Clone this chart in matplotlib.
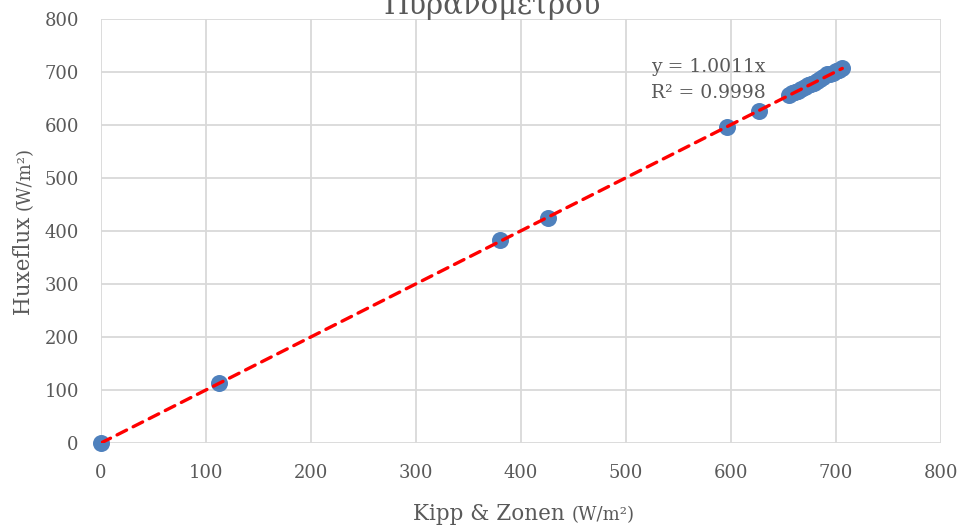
import numpy as np
import matplotlib
matplotlib.use("Agg")
from matplotlib import pyplot as plt

# readings: Kipp & Zonen (x) vs Huxeflux (y), W/m2
kipp = [0, 112, 380, 426, 596, 627,
        655, 658, 661, 664, 667, 670, 673, 676, 679, 682,
        685, 688, 691, 694, 697, 700, 703, 706]
huxe = [0, 113, 383, 425, 596, 627,
        656, 660, 662, 665, 668, 672, 676, 677, 679, 683,
        686, 690, 697, 697, 699, 701, 704, 708]
slope = 1.0011
r2 = 0.9998
title = "Πυρανομέτρου"

GRAY = "#595959"
GRID = "#d9d9d9"

plt.rcParams["font.family"] = ["DejaVu Serif"]

fig = plt.figure(figsize=(9.68, 5.32), dpi=100)
ax = fig.add_axes([101 / 968, 89 / 532, 840 / 968, 424 / 532])

x = np.array(kipp, dtype=float)
y = np.array(huxe, dtype=float)

ax.scatter(x, y, s=150, color="#4f81bd", zorder=3, linewidths=0, clip_on=False)
xt = np.array([0, x.max()])
ax.plot(xt, slope * xt, color="#ff0000", lw=2.4, ls=(0, (3.2, 2.2)),
        dash_capstyle="round", zorder=4)

ax.set_xlim(0, 800)
ax.set_ylim(0, 800)
ax.set_xticks(np.arange(0, 801, 100))
ax.set_yticks(np.arange(0, 801, 100))
ax.grid(True, color=GRID, lw=1.3)
ax.set_axisbelow(True)
for s in ax.spines.values():
    s.set_visible(False)
ax.tick_params(length=0, labelsize=13, labelcolor=GRAY)
ax.tick_params(axis="x", pad=15)
ax.tick_params(axis="y", pad=16)

# trendline label
ax.text(0.655, 0.875, f"y = {slope:.4f}x", transform=ax.transAxes,
        fontsize=13.5, color=GRAY, va="baseline")
ax.text(0.655, 0.814, f"R² = {r2:.4f}", transform=ax.transAxes,
        fontsize=13.5, color=GRAY, va="baseline")

# title, cut off at the top edge as in the source image
fig.text(492 / 968, 1 - 14 / 532, title, ha="center", va="baseline",
         fontsize=21, color=GRAY)

fig.canvas.draw()
r = fig.canvas.get_renderer()

# x label, unit part smaller
t1 = fig.text(0, 1 - 520 / 532, "Kipp & Zonen ", fontsize=15.5, color=GRAY,
              va="baseline")
t2 = fig.text(0, 1 - 520 / 532, "(W/m²)", fontsize=13, color=GRAY,
              va="baseline")
w1 = t1.get_window_extent(r).width
w2 = t2.get_window_extent(r).width
x0 = 524 - (w1 + w2) / 2
t1.set_x(x0 / 968)
t2.set_x((x0 + w1) / 968)

# y label, rotated
u1 = fig.text(30 / 968, 0, "Huxeflux ", fontsize=15.5, color=GRAY,
              rotation=90, ha="left", va="baseline", rotation_mode="anchor")
u2 = fig.text(30 / 968, 0, "(W/m²)", fontsize=13, color=GRAY,
              rotation=90, ha="left", va="baseline", rotation_mode="anchor")
h1 = u1.get_window_extent(r).height
h2 = u2.get_window_extent(r).height
y0 = 301 - (h1 + h2) / 2
u1.set_y(y0 / 532)
u2.set_y((y0 + h1) / 532)

fig.savefig("out.png", dpi=100)
